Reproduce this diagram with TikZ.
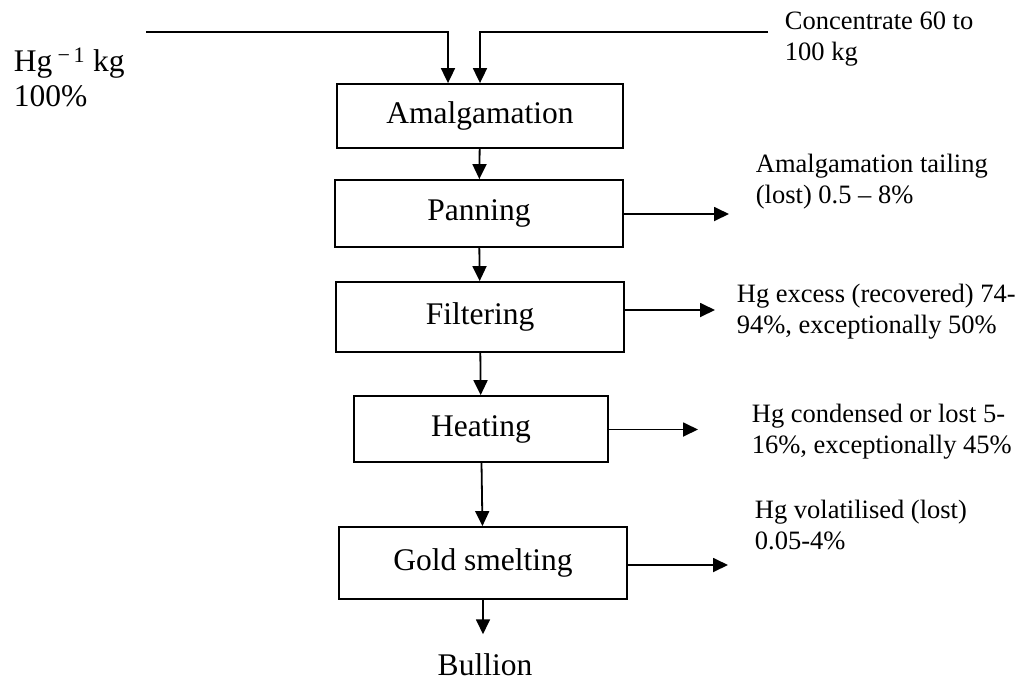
\documentclass[tikz,border=0pt]{standalone}
\usepackage{fontspec}
\setmainfont{Liberation Serif}
\usetikzlibrary{arrows.meta}

\begin{document}
\begin{tikzpicture}[x=1pt, y=-1pt, line width=1.8pt,
    stage/.style={draw, inner sep=0pt, minimum width=288, font=\fontsize{31.5}{35}\selectfont},
    note/.style={anchor=base west, align=left, inner sep=0pt, font=\fontsize{26.5}{30.7}\selectfont},
    flow/.style={-{Triangle[length=15pt, width=14pt]}}]
    \useasboundingbox (0,0) rectangle (1021,681);
    % process stages
    \node[stage, minimum width=286, minimum height=64] (amalg) at (480,116) {Amalgamation};
    \node[stage, minimum height=67] (pan) at (479,213.5) {Panning};
    \node[stage, minimum height=70] (filt) at (480,317) {Filtering};
    \node[stage, minimum width=254, minimum height=66] (heat) at (481,429) {Heating};
    \node[stage, minimum height=72] (smelt) at (483,563) {Gold smelting};
    \node[anchor=base, inner sep=0pt, font=\fontsize{31.5}{35}\selectfont] (bull) at (485,675) {Bullion};
    % inputs (base = last line)
    \node[note, font=\fontsize{31.5}{35}\selectfont] (hg) at (13,106.7) {Hg\,\textsuperscript{−\,1} kg\\100\%};
    \node[note] (conc) at (784,60) {Concentrate 60 to\\100 kg};
    \coordinate (hgstart) at (146,32);
    \coordinate (hgx) at (448,32);
    \coordinate (constart) at (768,32);
    \coordinate (conx) at (480,32);
    \draw[flow] (hgstart) -| (hgx |- amalg.north);
    \draw[flow] (constart) -| (conx |- amalg.north);
    % main flow
    \draw[flow] (amalg) -- (pan);
    \draw[flow] (pan) -- (filt);
    \draw[flow] (filt) -- (heat);
    \draw[flow] (heat) -- (smelt);
    \draw[flow, shorten >=18pt] (smelt.south) -- (smelt.south |- bull.north);
    % outputs
    \node[note] (tail) at (755,203.3) {Amalgamation tailing\\(lost) 0.5 -- 8\%};
    \node[note] (excess) at (736,333.3) {Hg excess (recovered) 74-\\94\%, exceptionally 50\%};
    \node[note] (cond) at (751,453.5) {Hg condensed or lost 5-\\16\%, exceptionally 45\%};
    \node[note] (volat) at (754,549.3) {Hg volatilised (lost)\\0.05-4\%};
    \coordinate (tailend) at (729,214);
    \coordinate (excessend) at (715,310);
    \coordinate (condend) at (698,429.5);
    \coordinate (volatend) at (728,565);
    \draw[flow] (pan.east |- tailend) -- (tailend);
    \draw[flow] (filt.east |- excessend) -- (excessend);
    \draw[flow] (heat.east |- condend) -- (condend);
    \draw[flow] (smelt.east |- volatend) -- (volatend);
\end{tikzpicture}
\end{document}
